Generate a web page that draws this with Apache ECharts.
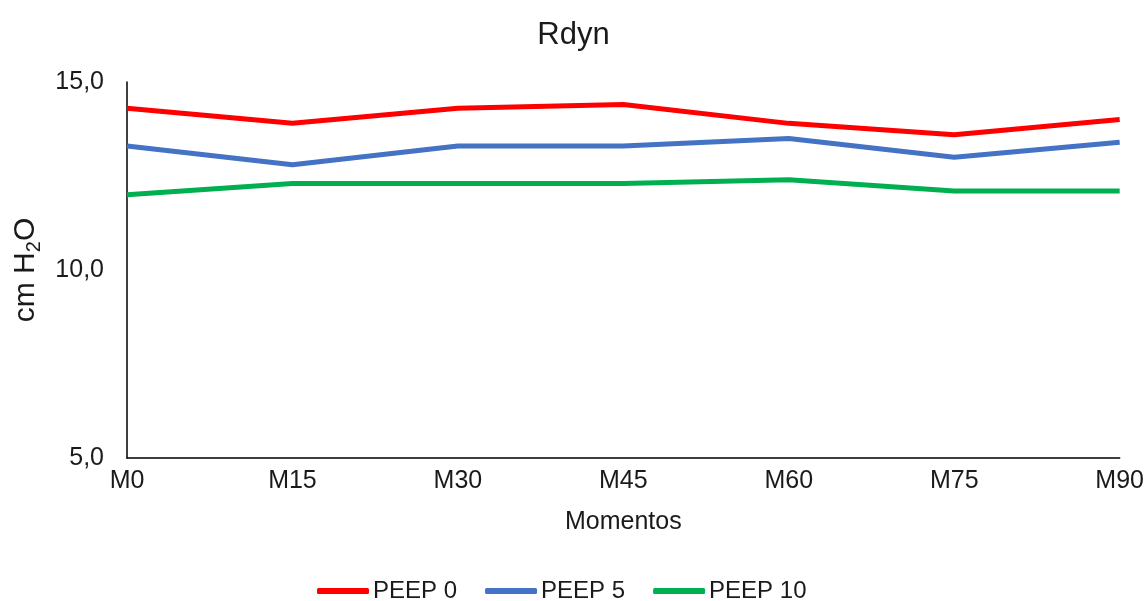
<!DOCTYPE html>
<html>
<head>
<meta charset="utf-8">
<script src="https://cdn.jsdelivr.net/npm/echarts@6/dist/echarts.min.js"></script>
<style>
  html, body { margin: 0; padding: 0; background: #fff; }
  #chart { width: 1147px; height: 601px; }
</style>
</head>
<body>
<div id="chart"></div>
<script>
// Rdyn over the time points, one line per PEEP level
const categories = ['M0', 'M15', 'M30', 'M45', 'M60', 'M75', 'M90'];
const peep0 = [14.3, 13.9, 14.3, 14.4, 13.9, 13.6, 14.0];
const peep5 = [13.3, 12.8, 13.3, 13.3, 13.5, 13.0, 13.4];
const peep10 = [12.0, 12.3, 12.3, 12.3, 12.4, 12.1, 12.1];
const seriesNames = ['PEEP 0', 'PEEP 5', 'PEEP 10'];
const colors = ['#FF0000', '#4472C4', '#00B050'];

const FONT = 'Liberation Sans, Arial, sans-serif';
const TEXT = '#1a1a1a';
const chart = echarts.init(document.getElementById('chart'));

const mkLine = (name, data, color) => ({
  name, type: 'line', data,
  symbol: 'none',
  lineStyle: { color, width: 5 },
  itemStyle: { color }
});

chart.setOption({
  animation: false,
  textStyle: { fontFamily: FONT },
  title: {
    text: 'Rdyn', left: 'center', top: 15,
    textStyle: { fontFamily: FONT, fontSize: 31, fontWeight: 'normal', color: TEXT }
  },
  legend: {
    top: 574, left: 312,
    icon: 'roundRect', itemWidth: 52, itemHeight: 6, itemGap: 28,
    textStyle: { fontFamily: FONT, fontSize: 24, color: TEXT, padding: [0, 0, 0, -1] },
    data: seriesNames
  },
  grid: { left: 127, right: 27, top: 82, bottom: 143 },
  xAxis: {
    type: 'category', data: categories, boundaryGap: false,
    name: 'Momentos', nameLocation: 'middle', nameGap: 52,
    nameTextStyle: { fontFamily: FONT, fontSize: 25, color: TEXT },
    axisLine: { lineStyle: { color: '#000', width: 1.5 } },
    axisTick: { show: false },
    axisLabel: { fontFamily: FONT, fontSize: 25, color: TEXT, margin: 11 }
  },
  yAxis: {
    type: 'value', min: 5, max: 15, interval: 5,
    name: '{a|cm H}{s|2}{a|O}', nameLocation: 'middle', nameGap: 84,
    nameTextStyle: {
      rich: {
        a: { fontFamily: FONT, fontSize: 30, color: TEXT, lineHeight: 34 },
        s: { fontFamily: FONT, fontSize: 20, color: TEXT, lineHeight: 34, padding: [16, 0, 0, 0] }
      }
    },
    splitLine: { show: false },
    axisLine: { show: true, lineStyle: { color: '#000', width: 1.5 } },
    axisTick: { show: false },
    axisLabel: {
      fontFamily: FONT, fontSize: 25, color: TEXT, margin: 23,
      formatter: v => v.toFixed(1).replace('.', ',')
    }
  },
  series: [
    mkLine(seriesNames[0], peep0, colors[0]),
    mkLine(seriesNames[1], peep5, colors[1]),
    mkLine(seriesNames[2], peep10, colors[2])
  ]
});
</script>
</body>
</html>
